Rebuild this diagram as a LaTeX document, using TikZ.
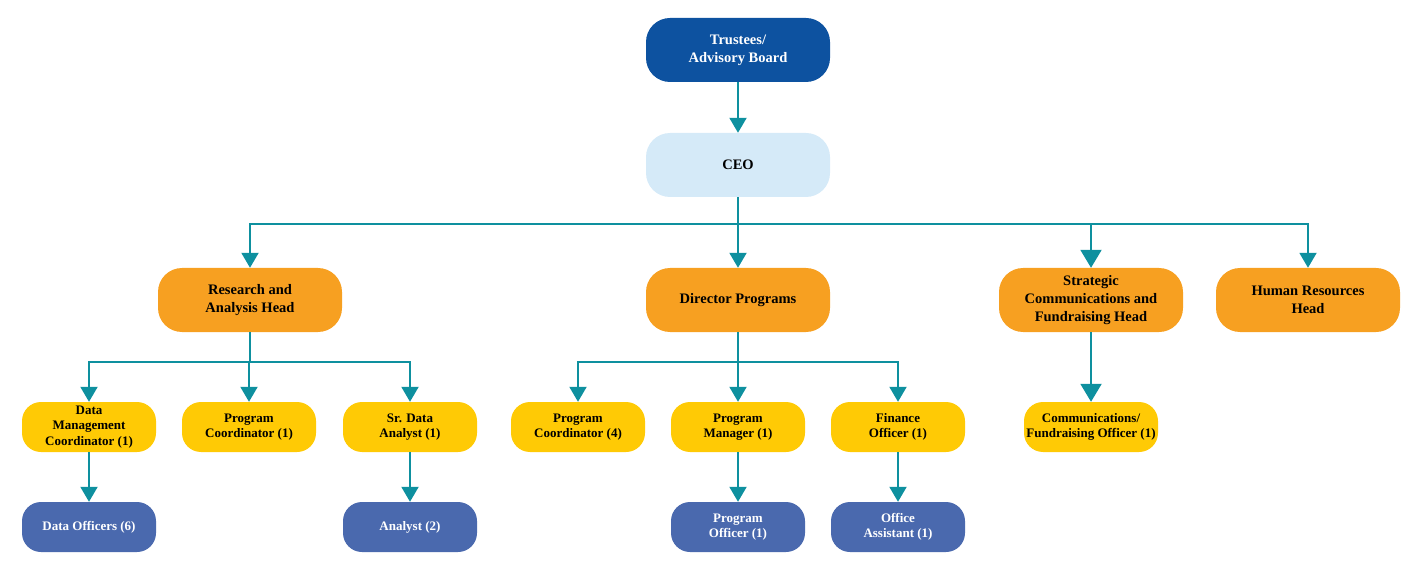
\documentclass[tikz,border=0pt]{standalone}
\usepackage{fontspec}
\setmainfont{Liberation Serif}
\usetikzlibrary{arrows.meta}
\definecolor{darkblue}{HTML}{0D52A0}
\definecolor{lightblue}{HTML}{D5EAF8}
\definecolor{orangebox}{HTML}{F7A021}
\definecolor{yellowbox}{HTML}{FFCA05}
\definecolor{bluebox}{HTML}{4A69AE}
\definecolor{tealline}{HTML}{0E909F}
\tikzset{
  bigbox/.style={rounded corners=24pt, minimum width=184pt, minimum height=64pt, align=center, inner sep=0pt, font=\fontsize{14.5}{18}\selectfont\bfseries},
  topbox/.style={bigbox, fill=darkblue, text=white},
  ceobox/.style={bigbox, fill=lightblue, text=black},
  headbox/.style={bigbox, fill=orangebox, text=black},
  smallbox/.style={rounded corners=19pt, minimum width=134pt, minimum height=50pt, align=center, inner sep=0pt, font=\fontsize{13}{15.5}\selectfont\bfseries},
  staffbox/.style={smallbox, fill=yellowbox, text=black},
  juniorbox/.style={smallbox, fill=bluebox, text=white},
  conn/.style={draw=tealline, line width=2pt},
  arr/.style={conn, -{Triangle[width=17pt,length=15pt]}},
  bigarr/.style={conn, -{Triangle[width=21pt,length=18pt]}},
}
\begin{document}
\begin{tikzpicture}[x=1pt,y=-1pt]
\useasboundingbox (0,0) rectangle (1421,561);
% level 0/1
\node[topbox] (trustees) at (738,50) {Trustees/\\Advisory Board};
\node[ceobox] (ceo) at (738,165) {CEO};
% level 2
\node[headbox] (research) at (250,300) {Research and\\Analysis Head};
\node[headbox] (director) at (738,300) {Director Programs};
\node[headbox] (strategic) at (1091,300) {Strategic\\Communications and\\Fundraising Head};
\node[headbox] (hr) at (1308,300) {Human Resources\\Head};
% level 3
\node[staffbox] (dmc) at (89,427) {Data\\Management\\Coordinator (1)};
\node[staffbox] (pc1) at (249,427) {Program\\Coordinator (1)};
\node[staffbox] (sda) at (410,427) {Sr. Data\\Analyst (1)};
\node[staffbox] (pc4) at (578,427) {Program\\Coordinator (4)};
\node[staffbox] (pm) at (738,427) {Program\\Manager (1)};
\node[staffbox] (fo) at (898,427) {Finance\\Officer (1)};
\node[staffbox] (cfo) at (1091,427) {Communications/\\Fundraising Officer (1)};
% level 4
\node[juniorbox] (do) at (89,527) {Data Officers (6)};
\node[juniorbox] (an) at (410,527) {Analyst (2)};
\node[juniorbox] (po) at (738,527) {Program\\Officer (1)};
\node[juniorbox] (oa) at (898,527) {Office\\Assistant (1)};
% junction coordinates
\coordinate (ceoj) at (738,224);
\coordinate (resj) at (250,362);
\coordinate (dirj) at (738,362);
% connectors
\draw[arr] (trustees) -- (ceo);
\draw[conn] (ceo.south) -- (ceoj);
\draw[arr] (ceoj) -| (research.north);
\draw[arr] (ceoj) -- (director.north);
\draw[bigarr] (ceoj) -| (strategic.north);
\draw[arr] (ceoj) -| (hr.north);
\draw[conn] (research.south) -- (resj);
\draw[arr] (resj) -| (dmc.north);
\draw[arr] (resj) -| (pc1.north);
\draw[arr] (resj) -| (sda.north);
\draw[conn] (director.south) -- (dirj);
\draw[arr] (dirj) -| (pc4.north);
\draw[arr] (dirj) -- (pm.north);
\draw[arr] (dirj) -| (fo.north);
\draw[bigarr] (strategic) -- (cfo);
\draw[arr] (dmc) -- (do);
\draw[arr] (sda) -- (an);
\draw[arr] (pm) -- (po);
\draw[arr] (fo) -- (oa);
\end{tikzpicture}
\end{document}
